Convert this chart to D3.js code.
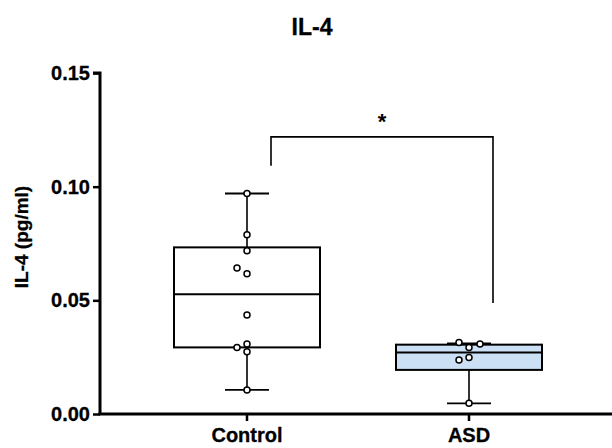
<!DOCTYPE html>
<html>
<head>
<meta charset="utf-8">
<script src="https://cdn.jsdelivr.net/npm/d3@7"></script>
<style>
  body { margin: 0; background: #fff; }
  text { font-family: "Liberation Sans", Arial, sans-serif; font-weight: bold; }
</style>
</head>
<body>
<div id="chart"></div>
<script>
// chart data
var groups = ["Control", "ASD"];
var controlPoints = [0.0970, 0.0788, 0.0718, 0.0642, 0.0617, 0.0436, 0.0308, 0.0293, 0.0274, 0.0106];
var controlJitter = [0, 0, 0, -10, 0, 0, 0, -10, 0, 0];
var asdPoints = [0.0314, 0.0308, 0.0293, 0.0249, 0.0238, 0.0047];
var asdJitter = [-10, 11, 0, 0, -10, 0];
// min, q1, median, q3, max
var controlBox = [0.0106, 0.0293, 0.0527, 0.0733, 0.0970];
var asdBox = [0.0047, 0.0194, 0.0270, 0.0305, 0.0311];
var yTicks = [0.00, 0.05, 0.10, 0.15];
var sigLabel = "*";
var sigLevels = [0.1092, 0.1219, 0.0488];

var svgWidth = 612;
var svgHeight = 448;

var svg = d3.select("#chart")
  .append("svg")
  .attr("width", svgWidth)
  .attr("height", svgHeight);

var x = d3.scaleBand()
  .domain(groups)
  .range([136, 580]);

var y = d3.scaleLinear()
  .domain([0, 0.15])
  .range([414, 73]);

var boxW = 146;

var data = [
  { name: "Control", box: controlBox, pts: controlPoints, jit: controlJitter, fill: "#ffffff" },
  { name: "ASD", box: asdBox, pts: asdPoints, jit: asdJitter, fill: "#cbdff5" }
];

data.forEach(function(d) {
  var cx = x(d.name) + x.bandwidth() / 2;
  var g = svg.append("g");
  // whiskers
  g.append("line")
    .attr("x1", cx).attr("x2", cx)
    .attr("y1", y(d.box[0])).attr("y2", y(d.box[4]))
    .attr("stroke", "#000").attr("stroke-width", 1.6);
  [d.box[0], d.box[4]].forEach(function(v) {
    g.append("line")
      .attr("x1", cx - 22).attr("x2", cx + 22)
      .attr("y1", y(v)).attr("y2", y(v))
      .attr("stroke", "#000").attr("stroke-width", 1.8);
  });
  // box
  g.append("rect")
    .attr("x", cx - boxW / 2)
    .attr("y", y(d.box[3]))
    .attr("width", boxW)
    .attr("height", y(d.box[1]) - y(d.box[3]))
    .attr("fill", d.fill)
    .attr("stroke", "#000")
    .attr("stroke-width", 2);
  g.append("line")
    .attr("x1", cx - boxW / 2).attr("x2", cx + boxW / 2)
    .attr("y1", y(d.box[2])).attr("y2", y(d.box[2]))
    .attr("stroke", "#000").attr("stroke-width", 2);
  // points
  g.selectAll("circle")
    .data(d.pts)
    .enter()
    .append("circle")
    .attr("cx", (v, i) => cx + d.jit[i])
    .attr("cy", v => y(v))
    .attr("r", 3)
    .attr("fill", "#fff")
    .attr("stroke", "#000")
    .attr("stroke-width", 1.5);
});

// axes
var leftAxis = d3.axisLeft(y)
  .tickValues(yTicks)
  .tickFormat(d3.format(".2f"))
  .tickSize(7)
  .tickPadding(3);

var yAxisG = svg.append("g")
  .attr("transform", "translate(100,0)")
  .call(leftAxis);
yAxisG.select(".domain").attr("d", "M-7,73H0V414").attr("stroke-width", 3);
yAxisG.selectAll(".tick line").attr("stroke-width", 2.5);
yAxisG.selectAll(".tick text")
  .attr("font-size", 20)
  .attr("font-family", "Liberation Sans, Arial, sans-serif")
  .attr("stroke", "#000")
  .attr("stroke-width", 0.3)
  .attr("fill", "#000");

var bottomAxis = d3.axisBottom(x)
  .tickSize(7)
  .tickPadding(7);

var xAxisG = svg.append("g")
  .attr("transform", "translate(0,414)")
  .call(bottomAxis);
xAxisG.select(".domain").attr("d", "M98.5,0H612").attr("stroke-width", 3);
xAxisG.selectAll(".tick line").attr("stroke-width", 2.5);
xAxisG.selectAll(".tick text")
  .attr("font-size", 20)
  .attr("font-family", "Liberation Sans, Arial, sans-serif")
  .attr("stroke", "#000")
  .attr("stroke-width", 0.3)
  .attr("fill", "#000");

// significance bracket
var bx1 = x("Control") + x.bandwidth() / 2 + 24;
var bx2 = x("ASD") + x.bandwidth() / 2 + 24;
svg.append("path")
  .attr("d", "M" + bx1 + "," + y(sigLevels[0]) + "V" + y(sigLevels[1]) + "H" + bx2 + "V" + y(sigLevels[2]))
  .attr("fill", "none")
  .attr("stroke", "#000")
  .attr("stroke-width", 1.6);
svg.append("text")
  .attr("x", (bx1 + bx2) / 2)
  .attr("y", y(sigLevels[1]) - 8)
  .attr("text-anchor", "middle")
  .attr("font-size", 22)
  .text(sigLabel);

// title and y label
svg.append("text")
  .attr("x", 312)
  .attr("y", 35)
  .attr("text-anchor", "middle")
  .attr("font-size", 23)
  .attr("stroke", "#000")
  .attr("stroke-width", 0.3)
  .text("IL-4");

svg.append("text")
  .attr("transform", "translate(28,237) rotate(-90)")
  .attr("text-anchor", "middle")
  .attr("font-size", 19)
  .attr("stroke", "#000")
  .attr("stroke-width", 0.3)
  .text("IL-4 (pg/ml)");
</script>
</body>
</html>
